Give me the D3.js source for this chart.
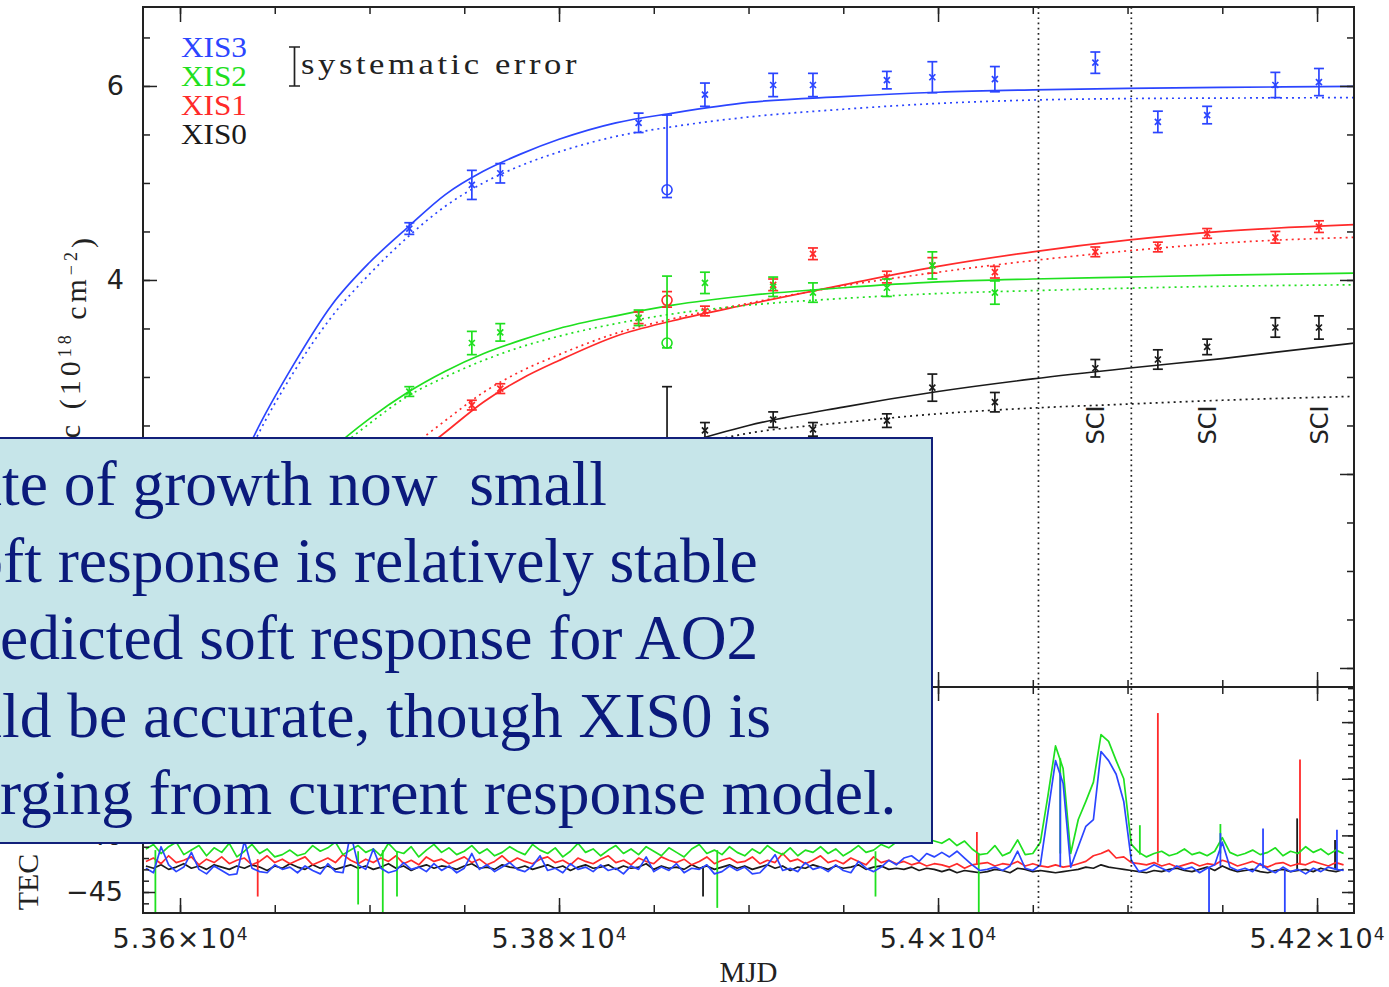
<!DOCTYPE html>
<html lang="en">
<head>
<meta charset="utf-8">
<title>XIS contamination</title>
<script src="https://cdn.jsdelivr.net/npm/d3@7"></script>
<style>
  body { margin: 0; background: #fff; }
  svg { display: block; }
  .ax path.domain { display: none; }
  .ax line { stroke: #222; stroke-width: 1.5; }
  .ax text { font-family: "DejaVu Sans", sans-serif; font-size: 27px; fill: #222; }
</style>
</head>
<body>
<script>
var W = 1389, H = 987;
var L = 143, R = 1354, T = 7, MID = 687, B = 913;

// observation dates (MJD) and column densities (1e18 cm^-2)
var obsMJD = [53721, 53754, 53769, 53842, 53877, 53913, 53934, 53973, 53997, 54030, 54083, 54116, 54142, 54178, 54201];
var xis3Val = [4.53, 4.98, 5.10, 5.62, 5.91, 6.01, 6.01, 6.06, 6.09, 6.07, 6.24, 5.63, 5.70, 6.01, 6.04];
var xis3Err = [0.06, 0.15, 0.10, 0.10, 0.12, 0.12, 0.12, 0.09, 0.16, 0.13, 0.11, 0.11, 0.09, 0.13, 0.14];
var xis2Val = [2.85, 3.35, 3.46, 3.61, 3.97, 3.93, 3.87, 3.92, 4.15, 3.87, null, null, null, null, null];
var xis2Err = [0.05, 0.12, 0.09, 0.08, 0.11, 0.10, 0.10, 0.09, 0.14, 0.12, null, null, null, null, null];
var xis1Val = [null, 2.71, 2.88, 3.61, 3.68, 3.95, 4.27, 4.03, 4.15, 4.08, 4.29, 4.34, 4.48, 4.44, 4.55];
var xis1Err = [null, 0.05, 0.05, 0.06, 0.05, 0.06, 0.06, 0.06, 0.08, 0.06, 0.05, 0.05, 0.05, 0.06, 0.06];
var xis0Val = [null, null, null, null, 2.45, 2.56, 2.46, 2.55, 2.89, 2.74, 3.09, 3.18, 3.31, 3.51, 3.51];
var xis0Err = [null, null, null, null, 0.08, 0.08, 0.07, 0.07, 0.14, 0.10, 0.09, 0.10, 0.08, 0.10, 0.12];

// circled points (order XIS0, XIS1, XIS2, XIS3)
var circMJD = 53857;
var circVal = [2.20, 3.79, 3.35, 4.93];
var circHi  = [2.90, 3.88, 4.04, 5.70];
var circLo  = [2.05, 3.72, 3.30, 4.85];

// model curves
var fitMJD = [53620, 53640, 53660, 53680, 53700, 53720, 53740, 53760, 53780, 53800, 53830, 53860, 53900, 53950, 54000, 54050, 54100, 54150, 54220];
var fit3Solid = [1.55, 2.43, 3.13, 3.74, 4.18, 4.54, 4.88, 5.12, 5.30, 5.45, 5.62, 5.72, 5.83, 5.89, 5.935, 5.96, 5.975, 5.985, 5.995];
var fit3Dot   = [1.48, 2.36, 3.05, 3.62, 4.06, 4.44, 4.76, 5.00, 5.18, 5.32, 5.48, 5.58, 5.68, 5.76, 5.82, 5.855, 5.87, 5.875, 5.88];
var fit2Solid = [null, 1.40, 1.85, 2.25, 2.57, 2.84, 3.06, 3.24, 3.38, 3.50, 3.63, 3.74, 3.84, 3.92, 3.98, 4.01, 4.03, 4.05, 4.07];
var fit2Dot   = [null, 1.35, 1.80, 2.20, 2.52, 2.80, 3.00, 3.17, 3.31, 3.42, 3.55, 3.65, 3.74, 3.81, 3.86, 3.89, 3.915, 3.935, 3.95];
var fit1Solid = [null, null, null, null, null, 2.12, 2.43, 2.74, 2.98, 3.17, 3.42, 3.58, 3.75, 3.95, 4.14, 4.29, 4.41, 4.50, 4.57];
var fit1Dot   = [null, null, null, null, null, 2.25, 2.55, 2.84, 3.06, 3.23, 3.45, 3.60, 3.76, 3.94, 4.08, 4.20, 4.30, 4.38, 4.44];
var fit0Solid = [null, null, null, null, null, null, null, null, null, null, null, 2.28, 2.50, 2.69, 2.85, 2.98, 3.09, 3.19, 3.35];
var fit0Dot   = [null, null, null, null, null, null, null, null, null, null, null, 2.25, 2.42, 2.53, 2.62, 2.68, 2.72, 2.76, 2.80];

// SCI epochs, and the two dotted markers
var sciMJD = [54083, 54142, 54201];
var markMJD = [54053, 54102];

// TEC housekeeping: one value every 4 days from MJD 53582
var tecStart = 53582, tecStep = 4;
var tecXIS0 = [
  -42.7,-42.9,-42.6,-43.0,-42.8,-42.5,-42.9,-42.7,-43.0,-42.6,
  -42.8,-43.0,-42.7,-42.9,-42.6,-42.8,-43.1,-42.7,-42.9,-42.5,
  -42.8,-43.0,-42.6,-42.9,-42.7,-43.0,-42.8,-42.6,-42.9,-42.7,
  -43.0,-42.8,-42.5,-42.9,-42.7,-43.1,-42.8,-42.6,-42.9,-42.7,
  -42.8,-43.0,-42.7,-42.5,-42.9,-42.8,-43.0,-42.6,-42.8,-42.9,
  -42.7,-43.0,-42.8,-42.6,-42.9,-42.7,-43.1,-42.8,-42.6,-42.9,
  -42.8,-42.6,-43.0,-42.7,-42.9,-42.8,-42.5,-43.0,-42.7,-42.9,
  -42.8,-43.0,-42.6,-42.9,-42.7,-43.0,-42.8,-42.6,-42.9,-42.7,
  -43.0,-42.8,-42.6,-42.9,-42.7,-43.1,-42.8,-42.9,-42.6,-42.8,
  -43.0,-42.7,-42.9,-42.8,-42.6,-43.0,-42.8,-42.7,-43.0,-42.9,
  -43.0,-42.8,-43.1,-42.9,-43.0,-43.2,-43.0,-43.3,-43.1,-43.2,
  -43.3,-43.2,-43.0,-43.1,-43.3,-42.9,-43.0,-43.2,-43.1,-43.2,
  -43.3,-43.2,-43.1,-43.0,-42.8,-42.9,-42.6,-42.8,-42.9,-43.0,
  -43.1,-43.2,-43.3,-43.1,-43.2,-43.0,-42.9,-43.1,-43.2,-43.0,
  -42.8,-43.1,-42.7,-43.0,-43.2,-43.1,-43.0,-43.2,-43.3,-43.1,
  -43.0,-43.2,-43.1,-43.0,-43.2,-42.9,-43.1,-43.2,-43.0];
var tecXIS1 = [
  -42.3,-42.0,-42.5,-41.8,-42.4,-42.2,-41.9,-42.6,-42.1,-42.4,
  -41.9,-42.5,-42.2,-42.0,-42.6,-42.3,-41.8,-42.4,-42.1,-42.5,
  -42.2,-41.9,-42.6,-42.3,-42.0,-42.4,-41.7,-42.2,-42.5,-42.1,
  -42.4,-42.0,-42.3,-41.8,-42.5,-42.2,-42.6,-41.9,-42.3,-42.1,
  -42.5,-42.2,-41.9,-42.4,-42.1,-42.6,-42.3,-41.8,-42.4,-42.0,
  -42.3,-42.5,-42.1,-41.9,-42.4,-42.2,-42.6,-42.0,-42.3,-42.5,
  -42.1,-41.8,-42.4,-42.2,-42.6,-42.0,-42.3,-42.5,-41.9,-42.2,
  -42.4,-42.1,-42.6,-42.3,-41.9,-42.5,-42.2,-42.0,-42.4,-42.3,
  -41.9,-42.5,-42.2,-42.4,-41.6,-42.3,-42.1,-42.5,-42.2,-41.8,
  -42.4,-42.2,-42.5,-42.0,-42.3,-42.6,-41.9,-42.4,-42.2,-42.5,
  -42.3,-42.6,-42.4,-42.7,-42.5,-42.6,-42.8,-42.5,-42.9,-42.6,
  -42.5,-42.4,-42.7,-42.5,-42.6,-42.3,-42.7,-42.5,-42.7,-42.8,
  -42.6,-42.8,-42.7,-42.5,-42.3,-41.8,-41.6,-41.3,-42.0,-41.9,
  -42.4,-42.5,-42.6,-42.4,-42.7,-42.5,-42.8,-42.6,-42.4,-42.7,
  -42.5,-42.6,-42.2,-42.4,-42.7,-42.5,-42.3,-42.6,-42.8,-42.5,
  -42.4,-42.7,-42.5,-42.6,-42.3,-42.5,-42.7,-42.4,-42.6];
var tecXIS2 = [
  -41.2,-40.8,-41.6,-41.0,-40.6,-41.7,-41.3,-40.9,-41.8,-41.1,
  -41.5,-40.7,-41.9,-41.4,-40.8,-41.6,-41.2,-41.9,-41.7,-41.3,
  -41.8,-41.6,-40.9,-41.4,-41.1,-40.6,-41.7,-41.3,-40.9,-41.5,
  -41.2,-41.8,-40.7,-41.4,-41.6,-41.0,-41.9,-41.3,-40.8,-41.5,
  -41.1,-41.7,-41.4,-40.9,-41.6,-41.2,-41.8,-41.5,-41.0,-41.4,
  -41.7,-40.8,-41.3,-41.6,-41.1,-41.9,-41.4,-40.7,-41.5,-41.2,
  -41.8,-41.3,-40.9,-41.6,-41.2,-41.7,-41.0,-41.4,-41.8,-41.1,
  -41.5,-41.9,-41.2,-40.8,-41.6,-41.3,-41.7,-41.0,-41.5,-41.8,
  -41.2,-41.6,-40.9,-41.4,-41.7,-41.1,-41.8,-41.3,-41.5,-41.0,
  -41.6,-41.2,-41.8,-41.4,-40.9,-41.5,-41.3,-40.8,-41.1,-40.6,
  -40.4,-40.2,-40.6,-40.3,-40.5,-40.7,-40.3,-40.9,-40.5,-41.2,
  -41.7,-41.6,-40.9,-41.8,-41.5,-40.4,-41.7,-41.6,-40.6,-36.5,
  -32.1,-34.1,-41.6,-38.6,-37.0,-35.3,-31.1,-31.7,-33.4,-35.0,
  -40.8,-41.5,-41.9,-41.6,-41.4,-41.8,-41.6,-41.2,-41.7,-41.5,
  -41.8,-41.4,-40.2,-41.5,-41.8,-41.6,-41.3,-41.7,-41.5,-41.1,
  -41.8,-41.4,-41.6,-41.0,-41.5,-41.2,-41.7,-41.3,-41.6];
var tecXIS3 = [
  -42.9,-43.3,-41.0,-42.6,-43.2,-42.8,-41.5,-43.0,-43.4,-42.7,
  -43.1,-43.5,-43.4,-40.5,-42.9,-43.2,-43.3,-42.6,-43.0,-42.8,
  -43.3,-42.7,-43.1,-43.4,-42.5,-43.2,-43.3,-39.8,-42.6,-43.0,
  -41.2,-42.9,-43.3,-43.1,-42.4,-43.0,-42.8,-43.2,-42.5,-43.1,
  -42.7,-43.3,-42.9,-41.6,-43.0,-42.6,-43.2,-42.8,-42.4,-43.0,
  -43.2,-42.7,-41.8,-43.1,-42.9,-43.3,-42.5,-43.0,-42.8,-43.2,
  -42.6,-43.1,-42.9,-43.4,-42.7,-43.0,-41.9,-43.2,-42.8,-43.1,
  -42.5,-43.3,-42.9,-43.0,-42.6,-43.4,-43.2,-42.7,-43.1,-42.8,
  -43.4,-43.3,-42.6,-41.7,-43.1,-42.9,-43.2,-42.4,-43.0,-42.8,
  -43.2,-42.6,-43.1,-43.3,-42.3,-42.9,-43.2,-42.8,-42.2,-42.6,
  -42.0,-41.8,-42.3,-41.6,-41.9,-41.5,-41.9,-41.4,-42.0,-42.6,
  -43.1,-43.0,-42.8,-43.1,-42.7,-41.4,-42.9,-43.1,-42.6,-38.0,
  -33.4,-35.4,-42.8,-41.0,-39.2,-38.6,-32.6,-33.4,-34.6,-37.0,
  -42.2,-43.2,-43.0,-42.6,-42.9,-43.2,-42.7,-43.0,-42.8,-43.3,
  -42.9,-42.6,-40.6,-42.8,-43.1,-42.9,-43.2,-42.5,-43.0,-43.3,
  -42.8,-43.2,-43.0,-43.4,-42.9,-43.2,-42.8,-43.0,-43.1];

// short excursions: [MJD, from, to]
var spikeXIS0 = [[53876, -42.7, -45.4], [54189.5, -43.1, -38.5], [54209.5, -43.0, -40.4]];
var spikeXIS1 = [[53641, -42.1, -45.4], [54020.5, -42.6, -39.7], [54116, -42.4, -29.2], [54191, -42.5, -33.3]];
var spikeXIS2 = [[53587, -41.3, -46.9], [53694, -41.4, -46.1], [53707, -41.3, -46.9], [53714.5, -41.4, -45.4],
                 [53883.5, -41.3, -46.4], [53967, -41.4, -45.4], [54021.5, -41.6, -46.9], [54064.5, -33.2, -41.6],
                 [54106.5, -41.7, -39.1], [54149, -41.6, -39.0]];
var spikeXIS3 = [[54064.5, -34.5, -42.8], [54143, -42.8, -46.9], [54149, -42.7, -39.8], [54171.5, -42.9, -39.4],
                 [54183, -43.0, -46.9], [54210.5, -43.0, -39.5]];

// axis labels
var xMajor = [53600, 53800, 54000, 54200];
var xMantissa = ["5.36", "5.38", "5.4", "5.42"];
var yTopMajor = [0, 2, 4, 6];
var yTopLabelled = [4, 6];
var yBotMajor = [-45, -40, -35, -30];
var yBotLabelled = [-45, -40];

var names = ["XIS0", "XIS1", "XIS2", "XIS3"];
var colors = ["#1a1a1a", "#ff2a2a", "#1fe01f", "#2b45ff"];

var boxLines = ["Rate of growth now  small", "Soft response is relatively stable",
                "Predicted soft response for AO2", "should be accurate, though XIS0 is",
                "diverging from current response model."];
var boxHidden = [2, 2, 2, 4, 4];

var x = d3.scaleLinear().domain([53580.47, 54219.5]).range([L, R]);
var yTop = d3.scaleLinear().domain([-0.196, 6.814]).range([MID, T]);
var yBot = d3.scaleLinear().domain([-46.853, -26.9]).range([B, MID]);

var svg = d3.select("body").append("svg").attr("width", W).attr("height", H);
var defs = svg.append("defs");
defs.append("clipPath").attr("id", "clipTop").append("rect")
    .attr("x", L).attr("y", T).attr("width", R - L).attr("height", MID - T);
defs.append("clipPath").attr("id", "clipBot").append("rect")
    .attr("x", L).attr("y", MID).attr("width", R - L).attr("height", B - MID);

// ---- bottom panel: TEC traces
var gBot = svg.append("g").attr("clip-path", "url(#clipBot)");
var tecLine = d3.line()
    .x(function(d, i) { return x(tecStart + i * tecStep); })
    .y(function(d) { return yBot(d); });
var tecSets = [[tecXIS0, spikeXIS0], [tecXIS1, spikeXIS1], [tecXIS2, spikeXIS2], [tecXIS3, spikeXIS3]];
tecSets.forEach(function(s, k) {
    gBot.append("path").datum(s[0]).attr("d", tecLine)
        .attr("fill", "none").attr("stroke", colors[k]).attr("stroke-width", 1.7)
        .attr("stroke-linejoin", "round");
    gBot.selectAll(null).data(s[1]).enter().append("line")
        .attr("x1", function(d) { return x(d[0]); })
        .attr("x2", function(d) { return x(d[0]); })
        .attr("y1", function(d) { return yBot(d[1]); })
        .attr("y2", function(d) { return yBot(d[2]); })
        .attr("stroke", colors[k]).attr("stroke-width", 1.8);
});

// ---- top panel: model curves
var gTop = svg.append("g").attr("clip-path", "url(#clipTop)");
var fitLine = d3.line()
    .defined(function(d) { return d[1] != null; })
    .x(function(d) { return x(d[0]); })
    .y(function(d) { return yTop(d[1]); })
    .curve(d3.curveMonotoneX);
var fits = [[fit0Solid, fit0Dot], [fit1Solid, fit1Dot], [fit2Solid, fit2Dot], [fit3Solid, fit3Dot]];
fits.forEach(function(f, k) {
    gTop.append("path").datum(fitMJD.map(function(m, i) { return [m, f[0][i]]; }))
        .attr("d", fitLine).attr("fill", "none").attr("stroke", colors[k]).attr("stroke-width", 1.7);
    gTop.append("path").datum(fitMJD.map(function(m, i) { return [m, f[1][i]]; }))
        .attr("d", fitLine).attr("fill", "none").attr("stroke", colors[k]).attr("stroke-width", 1.7)
        .attr("stroke-dasharray", "2,4");
});

// ---- top panel: measurements with error bars
function errBar(g, cx, v, lo, hi, color) {
    var y0 = yTop(lo), y1 = yTop(hi);
    g.append("line").attr("x1", cx).attr("x2", cx).attr("y1", y0).attr("y2", y1)
        .attr("stroke", color).attr("stroke-width", 1.7);
    [y0, y1].forEach(function(yy) {
        g.append("line").attr("x1", cx - 5).attr("x2", cx + 5).attr("y1", yy).attr("y2", yy)
            .attr("stroke", color).attr("stroke-width", 1.7);
    });
}
var pts = [[xis0Val, xis0Err], [xis1Val, xis1Err], [xis2Val, xis2Err], [xis3Val, xis3Err]];
pts.forEach(function(p, k) {
    var g = gTop.append("g");
    obsMJD.forEach(function(m, i) {
        var v = p[0][i];
        if (v == null) return;
        var cx = x(m), cy = yTop(v);
        errBar(g, cx, v, v - p[1][i], v + p[1][i], colors[k]);
        g.append("path").attr("d", "M" + (cx - 3) + "," + (cy - 3) + "L" + (cx + 3) + "," + (cy + 3) +
                                   "M" + (cx - 3) + "," + (cy + 3) + "L" + (cx + 3) + "," + (cy - 3))
            .attr("stroke", colors[k]).attr("stroke-width", 1.7);
    });
    var cx = x(circMJD);
    errBar(g, cx, circVal[k], circLo[k], circHi[k], colors[k]);
    g.append("circle").attr("cx", cx).attr("cy", yTop(circVal[k])).attr("r", 5)
        .attr("fill", "none").attr("stroke", colors[k]).attr("stroke-width", 1.6);
});

// ---- vertical dotted markers
svg.selectAll(null).data(markMJD).enter().append("line")
    .attr("x1", function(d) { return x(d); }).attr("x2", function(d) { return x(d); })
    .attr("y1", T).attr("y2", B)
    .attr("stroke", "#222").attr("stroke-width", 1.7).attr("stroke-dasharray", "1.7,3.5");

// ---- SCI labels
svg.selectAll(null).data(sciMJD).enter().append("text")
    .attr("transform", function(d) { return "translate(" + (x(d) + 9) + ",425) rotate(-90)"; })
    .attr("text-anchor", "middle")
    .style("font-family", "DejaVu Sans, sans-serif").style("font-size", "24px").style("fill", "#222")
    .text("SCI");

// ---- frame
svg.append("rect").attr("x", L).attr("y", T).attr("width", R - L).attr("height", B - T)
    .attr("fill", "none").attr("stroke", "#222").attr("stroke-width", 2);
svg.append("line").attr("x1", L).attr("x2", R).attr("y1", MID).attr("y2", MID)
    .attr("stroke", "#222").attr("stroke-width", 2);

// ---- ticks
var xMinor = d3.range(53600, 54201, 50);
function axisAt(fn, scale, vals, size, tx, ty, fmt, pad) {
    var a = fn(scale).tickValues(vals).tickSize(size).tickFormat(fmt || "");
    if (pad != null) a.tickPadding(pad);
    return svg.append("g").attr("class", "ax").attr("transform", "translate(" + tx + "," + ty + ")").call(a);
}
axisAt(d3.axisTop, x, xMinor, -7, 0, T);
axisAt(d3.axisTop, x, xMajor, -15, 0, T);
axisAt(d3.axisBottom, x, xMinor, -7, 0, MID);
axisAt(d3.axisBottom, x, xMajor, -15, 0, MID);
axisAt(d3.axisTop, x, xMinor, -7, 0, MID);
axisAt(d3.axisTop, x, xMajor, -14, 0, MID);
axisAt(d3.axisBottom, x, xMinor, -8, 0, B);
var xLab = axisAt(d3.axisBottom, x, xMajor, -15, 0, B, function(d, i) { return xMantissa[i]; }, 16);
xLab.selectAll("text").each(function(d, i) {
    var t = d3.select(this).text(null).style("letter-spacing", "1px");
    t.append("tspan").text(xMantissa[i] + "\u00d710");
    t.append("tspan").attr("dy", "-0.5em").style("font-size", "17px").text("4");
});

var yTopMinor = d3.range(0, 6.6, 0.5);
axisAt(d3.axisLeft, yTop, yTopMinor, -7, L, 0);
axisAt(d3.axisLeft, yTop, yTopMajor, -14, L, 0);
axisAt(d3.axisLeft, yTop, yTopLabelled, 0, L, 0, function(d) { return String(d); }, 19);
axisAt(d3.axisRight, yTop, yTopMinor, -7, R, 0);
axisAt(d3.axisRight, yTop, yTopMajor, -14, R, 0);

var yBotMinor = d3.range(-46, -26, 1);
axisAt(d3.axisLeft, yBot, yBotMinor, -6, L, 0);
axisAt(d3.axisLeft, yBot, yBotMajor, -12, L, 0);
axisAt(d3.axisLeft, yBot, yBotLabelled, 0, L, 0, function(d) { return "\u2212" + Math.abs(d); }, 20);
axisAt(d3.axisRight, yBot, yBotMinor, -6, R, 0);
axisAt(d3.axisRight, yBot, yBotMajor, -12, R, 0);

// ---- axis titles
var serif = "Liberation Serif, Times New Roman, serif";
svg.append("text").attr("x", (L + R) / 2).attr("y", 982).attr("text-anchor", "middle")
    .style("font-family", serif).style("font-size", "29px").style("fill", "#222").text("MJD");
svg.append("text").attr("transform", "translate(38,882) rotate(-90)").attr("text-anchor", "middle")
    .style("font-family", serif).style("font-size", "30px").style("fill", "#222").text("TEC");
var yl = svg.append("text").attr("transform", "translate(80,234) rotate(-90)").attr("text-anchor", "end")
    .style("font-family", serif).style("font-size", "30px").style("fill", "#222").style("letter-spacing", "4px");
yl.append("tspan").text("N c  (10");
yl.append("tspan").attr("dy", "-0.5em").style("font-size", "18px").text("18");
yl.append("tspan").attr("dy", "0.5em").text(" cm");
yl.append("tspan").attr("dy", "-0.5em").style("font-size", "18px").text("\u22122");
yl.append("tspan").attr("dy", "0.5em").text(")");

// ---- legend
var legY = [144, 115, 86, 57];
names.forEach(function(n, k) {
    svg.append("text").attr("x", 181).attr("y", legY[k])
        .attr("textLength", 66).attr("lengthAdjust", "spacingAndGlyphs")
        .style("font-family", serif).style("font-size", "29px").style("fill", colors[k]).text(n);
});
svg.append("path").attr("d", "M294.5,47V86M289,47H300M289,86H300")
    .attr("stroke", "#222").attr("stroke-width", 1.7).attr("fill", "none");
svg.append("text").attr("x", 301).attr("y", 74).attr("textLength", 279).attr("lengthAdjust", "spacingAndGlyphs")
    .style("font-family", serif).style("font-size", "29px").style("fill", "#222").style("letter-spacing", "3px")
    .text("systematic error");

// ---- overlaid slide text box
svg.append("rect").attr("x", -10).attr("y", 438).attr("width", 942).attr("height", 405)
    .attr("fill", "#c6e5e9").attr("stroke", "#12207a").attr("stroke-width", 2);
var boxStart = [2, 3, 0, 2, 0];
boxLines.forEach(function(s, i) {
    var t = svg.append("text").attr("y", 505 + i * 77.2)
        .style("font-family", serif).style("font-size", "63.5px").style("fill", "#0b1a7c")
        .style("white-space", "pre").text(s);
    var off = t.node().getSubStringLength(0, boxHidden[i]);
    t.attr("x", boxStart[i] - off);
});
</script>
</body>
</html>
